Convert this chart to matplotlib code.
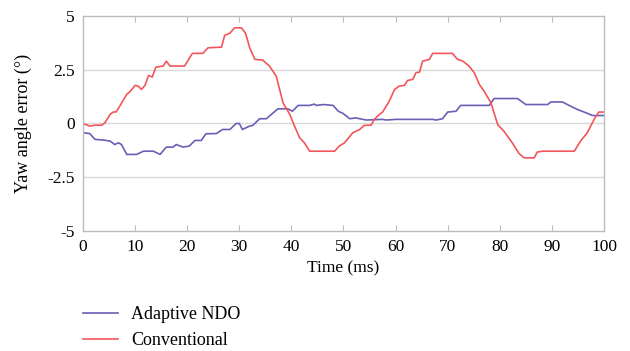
import matplotlib
matplotlib.use("Agg")
import matplotlib.pyplot as plt

plt.rcParams['font.family'] = ['Liberation Serif', 'DejaVu Serif']

# Adaptive NDO (time in ms, yaw angle error in degrees)
ndo_t = [0, 1.3, 2.3, 4.2, 5.2, 6.1, 6.8, 7.4, 8.4, 10.3, 11.6, 13.5, 14.8, 16, 17.3,
         17.9, 19.2, 20.4, 21.5, 22.7, 23.6, 25.6, 26.8, 28.2, 29.4, 30, 30.6, 32, 32.6,
         33.9, 35.2, 37.4, 39.3, 40.2, 41.3, 43.5, 44.4, 44.8, 46.1, 48.0, 49.0, 49.9,
         51.2, 52.4, 53.1, 54.4, 57.5, 58.2, 60.1, 67.1, 67.8, 69.0, 70.0, 71.6, 72.5,
         78.0, 78.9, 83.4, 85.0, 89.2, 89.8, 92.0, 93.3, 94.9, 96.2, 97.8, 100]
ndo_v = [-0.43, -0.47, -0.74, -0.78, -0.82, -0.98, -0.9, -0.98, -1.44, -1.44, -1.29, -1.29,
         -1.44, -1.1, -1.1, -0.98, -1.1, -1.05, -0.79, -0.79, -0.48, -0.47, -0.28, -0.28,
         0, 0, -0.28, -0.12, -0.09, 0.22, 0.22, 0.68, 0.68, 0.57, 0.84, 0.84, 0.9, 0.84,
         0.88, 0.84, 0.57, 0.47, 0.22, 0.26, 0.22, 0.16, 0.19, 0.16, 0.19, 0.19, 0.16,
         0.22, 0.53, 0.57, 0.84, 0.84, 1.16, 1.16, 0.88, 0.88, 1.0, 1.0, 0.84, 0.65, 0.53,
         0.37, 0.37]

# Conventional
conv_t = [0, 1.3, 2.3, 3.6, 4.2, 5.2, 5.8, 6.4, 8.4, 9.1, 10, 10.6, 11.2, 11.9, 12.6,
          13.3, 14.0, 15.4, 16, 16.7, 19.5, 21, 23, 24, 26.6, 27.2, 28.2, 29.1, 30.4,
          31.2, 32, 33, 34.5, 35.8, 37.1, 38.4, 39.7, 40.6, 41.6, 42.5, 43.5, 48.3, 49.2,
          50.2, 51.8, 53.1, 54.0, 55.3, 55.9, 56.9, 57.5, 58.8, 59.8, 60.7, 61.7, 62.3,
          63.3, 63.9, 64.6, 65.2, 66.5, 67.1, 70.9, 71.9, 72.9, 74.1, 75.1, 76.1, 77.0,
          78.3, 79.6, 80.8, 82.4, 83.7, 84.7, 86.6, 87.2, 88.2, 94.3, 95.5, 96.8, 98.1,
          99.0, 100]
conv_v = [0, -0.12, -0.08, -0.08, 0.03, 0.42, 0.53, 0.54, 1.35, 1.5, 1.77, 1.74, 1.58,
          1.77, 2.23, 2.16, 2.62, 2.67, 2.9, 2.67, 2.67, 3.26, 3.26, 3.52, 3.55, 4.1, 4.2,
          4.45, 4.45, 4.2, 3.52, 2.98, 2.95, 2.67, 2.2, 0.96, 0.42, -0.12, -0.67, -0.9,
          -1.29, -1.29, -1.05, -0.9, -0.43, -0.28, -0.09, -0.08, 0.19, 0.42, 0.53, 1.04,
          1.58, 1.74, 1.77, 2.0, 2.05, 2.36, 2.39, 2.9, 2.98, 3.26, 3.26, 2.98, 2.9, 2.67,
          2.36, 1.81, 1.5, 0.96, -0.05, -0.36, -0.9, -1.4, -1.6, -1.6, -1.33, -1.29, -1.29,
          -0.82, -0.43, 0.19, 0.53, 0.53]

x_ticks = [0, 10, 20, 30, 40, 50, 60, 70, 80, 90, 100]
y_ticks = [-5, -2.5, 0, 2.5, 5]
y_labels = ["-5", "-2.5", "0", "2.5", "5"]

fig = plt.figure(figsize=(6.3, 3.51), dpi=100)
ax = fig.add_axes([0.1317, 0.342, 0.827, 0.6125])

blue = "#6a5fb4"
red = "#f2555a"
l1, = ax.plot(ndo_t, ndo_v, color=blue, lw=1.2, label="Adaptive NDO")
l2, = ax.plot(conv_t, conv_v, color=red, lw=1.2, label="Conventional")

ax.set_xlim(0, 100)
ax.set_ylim(-5, 5)
ax.set_xticks(x_ticks)
ax.set_yticks(y_ticks)
ax.set_yticklabels(y_labels)
for yv in [-2.5, 0, 2.5]:
    ax.axhline(yv, color="#d9d9d9", lw=1.0, zorder=0)

for s in ax.spines.values():
    s.set_color("#bdbdbd")
    s.set_linewidth(1.0)
ax.tick_params(axis="x", direction="in", top=True, length=4, color="#bdbdbd",
               labelsize=12.5, pad=6)
ax.tick_params(axis="y", length=0, labelsize=12.5, pad=6)

ax.set_xlabel("Time (ms)", fontsize=12.5, labelpad=4)
ax.set_ylabel("Yaw angle error (°)", fontsize=13, labelpad=11)

fig.legend(handles=[l1, l2], loc="upper left", bbox_to_anchor=(0.121, 0.148),
           frameon=False, fontsize=13, handlelength=1.9, handletextpad=0.75,
           labelspacing=0.5, borderaxespad=0)

fig.savefig("out.png", dpi=100)
